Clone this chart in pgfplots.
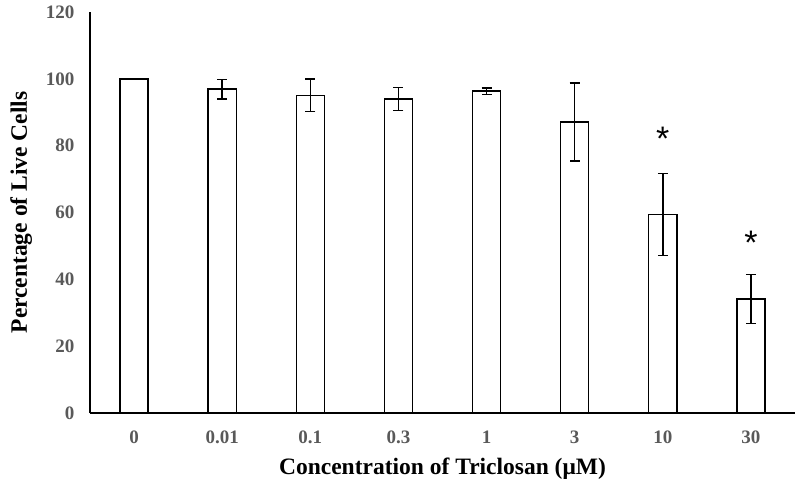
\documentclass[border=0pt]{standalone}
\usepackage{pgfplots}
\pgfplotsset{compat=1.18}
\usepackage{fontspec}
\setmainfont{Liberation Serif}
\newfontfamily\astfont{Liberation Sans}
\definecolor{ticklab}{HTML}{595959}
\begin{document}
\begin{tikzpicture}
\useasboundingbox (-90pt,-75pt) rectangle (710pt,413pt);
\begin{axis}[
  at={(0pt,0pt)}, anchor=south west,
  scale only axis, width=705pt, height=401pt,
  xmin=-0.5, xmax=7.5, ymin=0, ymax=120,
  axis x line*=bottom, axis y line*=left,
  axis line style={line width=1.3pt, black, -},
  xtick={0,...,7},
  xticklabels={0,0.01,0.1,0.3,1,3,10,30},
  ytick={0,20,...,120},
  major tick length=0pt,
  tick label style={font=\fontsize{19}{21}\selectfont\bfseries, text=ticklab},
  xticklabel style={yshift=-14pt},
  yticklabel style={xshift=-12pt},
  /pgf/number format/assume math mode=true,
  xlabel={Concentration of Triclosan (μM)},
  ylabel={Percentage of Live Cells},
  label style={font=\fontsize{23.5}{25}\selectfont\bfseries},
  xlabel style={yshift=-8pt},
  ylabel style={yshift=7pt},
  clip=false,
]
\addplot[ybar, bar width=0.32, fill=white, draw=black, line width=1.4pt,
  error bars/.cd, y dir=both, y explicit,
  error bar style={line width=1.4pt, black},
  error mark options={rotate=90, mark size=5pt, line width=1.4pt, black}]
  coordinates {
  (0,100) +- (0,0)
  (1,96.9) +- (0,2.9)
  (2,95.1) +- (0,4.9)
  (3,94.0) +- (0,3.4)
  (4,96.3) +- (0,1.0)
  (5,87.1) +- (0,11.7)
  (6,59.4) +- (0,12.2)
  (7,34.1) +- (0,7.4)
  };
\addplot[only marks, mark=none, nodes near coords={*},
  every node near coord/.style={anchor=center, font=\astfont\fontsize{34}{34}\selectfont, text=black, inner sep=0pt}]
  coordinates {(6,82.0) (7,51.0)};
\end{axis}
\end{tikzpicture}
\end{document}
